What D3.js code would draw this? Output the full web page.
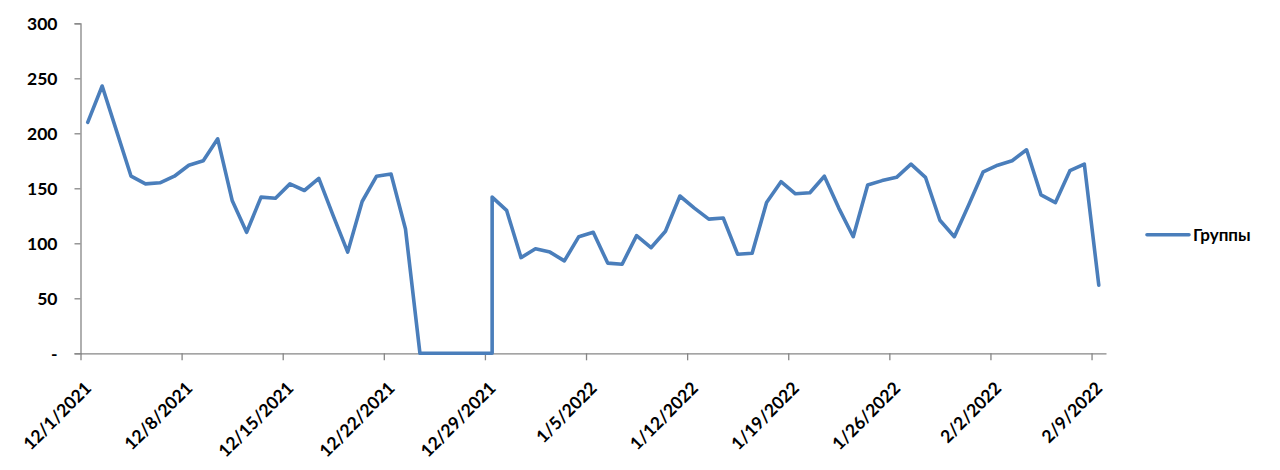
<!DOCTYPE html>
<html>
<head>
<meta charset="utf-8">
<script src="https://cdn.jsdelivr.net/npm/d3@7"></script>
<style>
  html, body { margin: 0; padding: 0; background: #ffffff; }
  svg { display: block; }
  text { font-family: Lato, "Open Sans", "Liberation Sans", sans-serif; font-weight: bold; fill: #000; }
</style>
</head>
<body>
<svg id="chart" width="1280" height="470"></svg>
<script>
// ---- data ----
const seriesName = "Группы";
const dates = [
  "2021-12-01","2021-12-02","2021-12-03","2021-12-04","2021-12-05","2021-12-06","2021-12-07",
  "2021-12-08","2021-12-09","2021-12-10","2021-12-11","2021-12-12","2021-12-13","2021-12-14",
  "2021-12-15","2021-12-16","2021-12-17","2021-12-18","2021-12-19","2021-12-20","2021-12-21",
  "2021-12-22","2021-12-23","2021-12-24","2021-12-25","2021-12-26","2021-12-27","2021-12-28",
  "2021-12-29","2021-12-29","2021-12-30","2021-12-31",
  "2022-01-01","2022-01-02","2022-01-03","2022-01-04","2022-01-05","2022-01-06","2022-01-07",
  "2022-01-08","2022-01-09","2022-01-10","2022-01-11","2022-01-12","2022-01-13","2022-01-14",
  "2022-01-15","2022-01-16","2022-01-17","2022-01-18","2022-01-19","2022-01-20","2022-01-21",
  "2022-01-22","2022-01-23","2022-01-24","2022-01-25","2022-01-26","2022-01-27","2022-01-28",
  "2022-01-29","2022-01-30","2022-01-31",
  "2022-02-01","2022-02-02","2022-02-03","2022-02-04","2022-02-05","2022-02-06","2022-02-07",
  "2022-02-08","2022-02-09"
];
const values = [
  210, 243, 202, 161, 154, 155, 161,
  171, 175, 195, 139, 110, 142, 141,
  154, 148, 159, 125, 92, 138, 161,
  163, 113, 0, 0, 0, 0, 0,
  0, 142, 130, 87,
  95, 92, 84, 106, 110, 82, 81,
  107, 96, 111, 143, 132, 122, 123,
  90, 91, 137, 156, 145, 146, 161,
  132, 106, 153, 157, 160, 172, 160,
  121, 106, 135,
  165, 171, 175, 185, 144, 137, 166,
  172, 62
];
const xTickDates = ["2021-12-01","2021-12-08","2021-12-15","2021-12-22","2021-12-29",
  "2022-01-05","2022-01-12","2022-01-19","2022-01-26","2022-02-02","2022-02-09"];
const yTicks = [0, 50, 100, 150, 200, 250, 300];

// ---- layout ----
const svg = d3.select("#chart");
const parse = d3.utcParse("%Y-%m-%d");
const plotLeft = 80.5, plotRight = 1106, plotTop = 23.3, plotBottom = 353.3;
const dayMs = 86400000;
const fontFam = 'Lato, "Open Sans", "Liberation Sans", sans-serif';

const x = d3.scaleUtc()
  .domain([parse("2021-12-01"), new Date(parse("2022-02-09").getTime() + dayMs)])
  .range([plotLeft, plotRight]);
const y = d3.scaleLinear().domain([0, 300]).range([plotBottom, plotTop]);

const data = dates.map((d, i) => ({ date: parse(d), value: values[i] }));
const axisColor = "#868686";

// y axis
const yAxis = svg.append("g")
  .attr("transform", `translate(${plotLeft},0)`)
  .call(d3.axisLeft(y).tickValues(yTicks).tickSize(6).tickPadding(17)
    .tickFormat(d => d === 0 ? "-" : d3.format("d")(d)));
yAxis.select(".domain").attr("stroke", axisColor).attr("stroke-width", 1.3);
yAxis.selectAll(".tick line").attr("stroke", axisColor).attr("stroke-width", 1.3);
yAxis.selectAll(".tick text")
  .attr("font-size", 17.5).attr("font-family", fontFam)
  .attr("font-weight", "bold").attr("fill", "#000").attr("dy", "0.36em");

// x axis
const fmt = d => `${d.getUTCMonth() + 1}/${d.getUTCDate()}/${d.getUTCFullYear()}`;
const xAxis = svg.append("g")
  .attr("transform", `translate(0,${plotBottom})`)
  .call(d3.axisBottom(x).tickValues(xTickDates.map(parse)).tickSize(7).tickSizeOuter(0).tickFormat(fmt));
xAxis.select(".domain").attr("stroke", axisColor).attr("stroke-width", 1.3);
xAxis.selectAll(".tick line").attr("stroke", axisColor).attr("stroke-width", 1.3);
xAxis.selectAll(".tick text")
  .attr("font-size", 17.5).attr("font-family", fontFam)
  .attr("font-weight", "bold").attr("fill", "#000")
  .attr("text-anchor", "end")
  .attr("y", 0).attr("dy", 0)
  .attr("transform", "translate(11.5,36) rotate(-45)");

// line
const lineColor = "#4a7ebb";
const line = d3.line()
  .x(d => x(new Date(d.date.getTime() + dayMs / 2)))
  .y(d => y(d.value));
svg.append("path")
  .datum(data)
  .attr("fill", "none")
  .attr("stroke", lineColor)
  .attr("stroke-width", 3.6)
  .attr("stroke-linejoin", "round")
  .attr("stroke-linecap", "round")
  .attr("d", line);

// legend
const lg = svg.append("g").attr("transform", "translate(1147,234.7)");
lg.append("line").attr("x1", 0).attr("x2", 42).attr("y1", 0).attr("y2", 0)
  .attr("stroke", lineColor).attr("stroke-width", 3.6).attr("stroke-linecap", "round");
lg.append("text").attr("x", 46).attr("y", 6).attr("font-size", 17)
  .attr("font-family", fontFam).text(seriesName);
</script>
</body>
</html>
